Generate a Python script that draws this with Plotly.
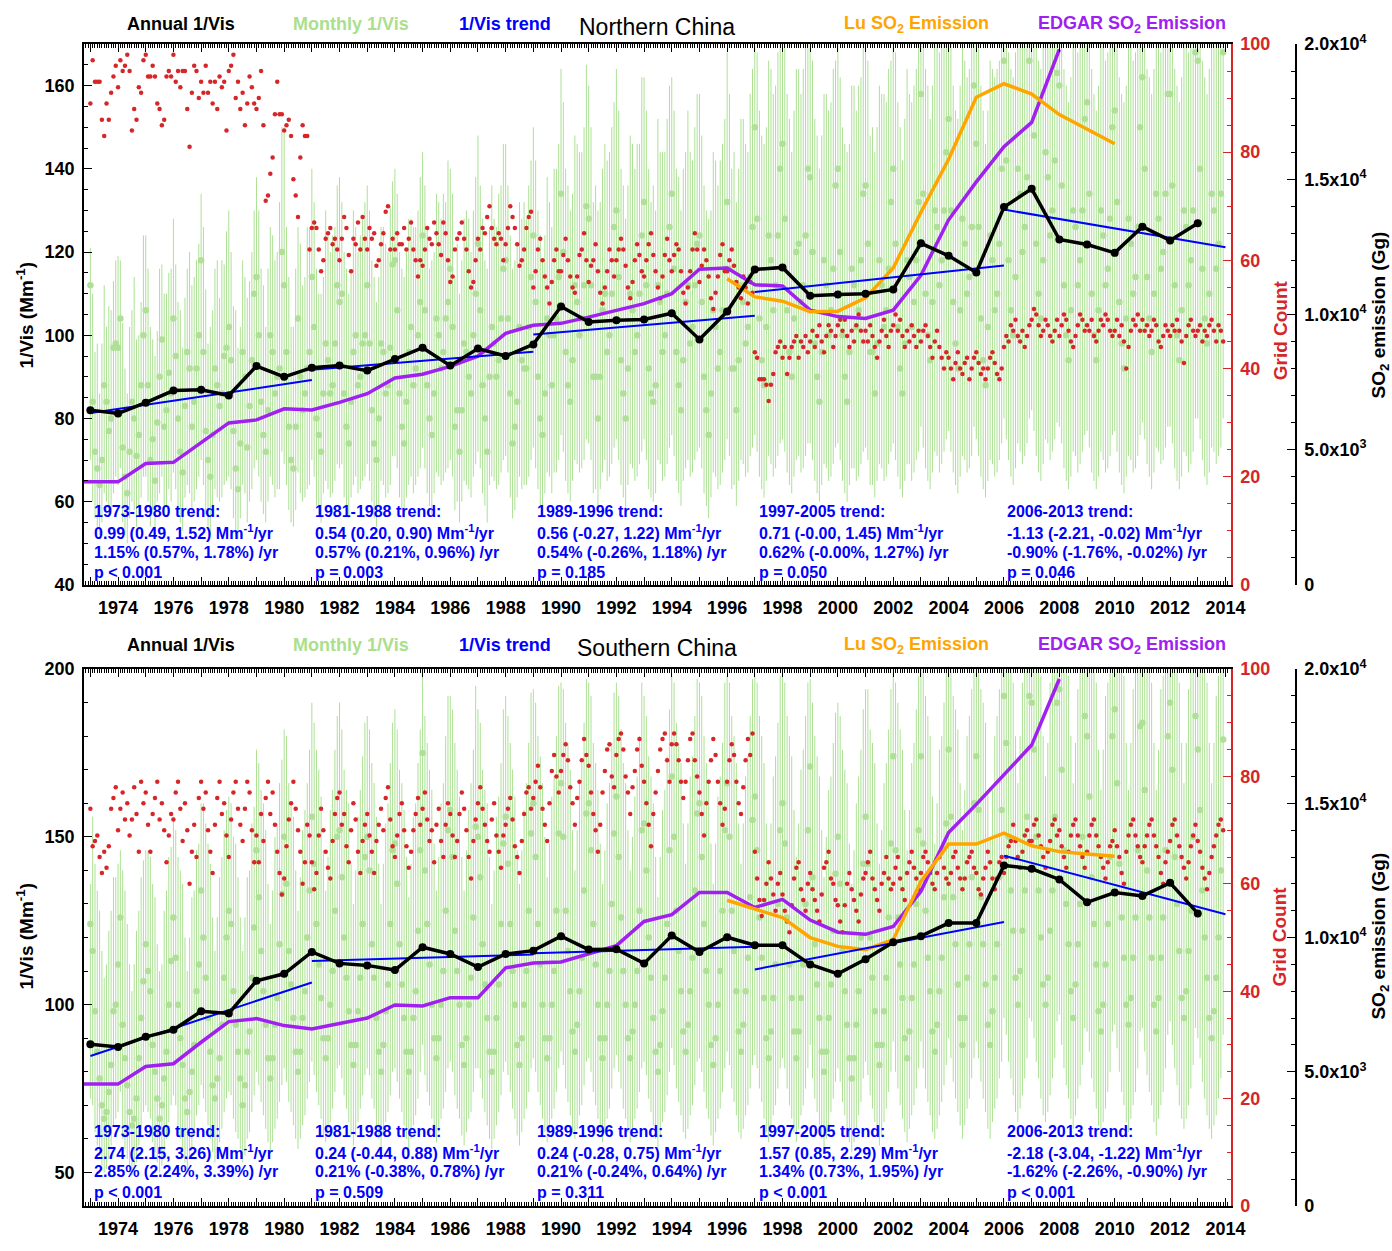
import plotly.graph_objects as go

# ------------------------------------------------------------------
# Shared time axes
# ------------------------------------------------------------------
YEARS = list(range(1973, 2014))
TICK_YEARS = list(range(1973, 2015))

# ------------------------------------------------------------------
# Northern China
# ------------------------------------------------------------------
n_annual = [82.0, 81.2, 83.8, 86.7, 86.9, 85.5, 92.6, 90.0, 92.2, 92.7,
            91.5, 94.3, 97.0, 92.7, 96.8, 95.0, 97.8, 106.9, 103.2, 103.6,
            103.8, 105.3, 99.0, 105.7, 115.8, 116.3, 109.5, 109.8, 110.0, 111.0,
            122.1, 119.1, 115.1, 130.8, 135.2, 123.0, 121.8, 119.8, 126.1, 122.8,
            126.9]

n_monthly = [
    [112, 84, 72, 68, 64, 70, 88, 84, 77, 80, 97, 98],
    [97, 104, 73, 66, 62, 72, 84, 80, 71, 76, 88, 100],
    [106, 88, 70, 75, 65, 79, 90, 99, 78, 82, 91, 86],
    [104, 95, 80, 72, 67, 83, 96, 92, 78, 84, 92, 100],
    [118, 96, 77, 70, 66, 76, 92, 88, 83, 86, 95, 97],
    [102, 94, 77, 68, 63, 74, 96, 90, 73, 83, 94, 110],
    [114, 100, 84, 76, 72, 82, 100, 96, 86, 90, 92, 120],
    [112, 96, 78, 70, 68, 78, 104, 90, 82, 86, 92, 96],
    [114, 102, 80, 76, 72, 86, 98, 94, 86, 88, 98, 112],
    [108, 110, 86, 78, 74, 84, 96, 100, 88, 90, 98, 100],
    [112, 98, 82, 74, 70, 80, 98, 96, 86, 88, 97, 117],
    [118, 106, 86, 78, 74, 84, 96, 102, 88, 92, 100, 108],
    [124, 106, 88, 80, 76, 86, 104, 100, 92, 96, 104, 108],
    [116, 102, 78, 82, 72, 82, 98, 96, 90, 86, 100, 110],
    [122, 106, 88, 80, 72, 90, 102, 98, 90, 94, 104, 116],
    [118, 104, 86, 74, 78, 84, 102, 94, 92, 92, 102, 114],
    [124, 108, 90, 80, 76, 86, 104, 100, 88, 100, 104, 114],
    [134, 120, 96, 88, 84, 94, 112, 108, 100, 104, 112, 131],
    [128, 112, 90, 90, 80, 90, 106, 110, 96, 100, 110, 126],
    [130, 114, 94, 86, 80, 92, 110, 106, 96, 100, 110, 124],
    [132, 112, 92, 86, 84, 88, 112, 108, 96, 100, 110, 126],
    [134, 116, 96, 88, 82, 94, 108, 112, 98, 102, 112, 122],
    [124, 108, 90, 82, 76, 86, 106, 102, 92, 96, 106, 116],
    [132, 116, 92, 92, 82, 94, 112, 108, 98, 102, 114, 126],
    [150, 128, 104, 94, 88, 102, 124, 118, 106, 112, 124, 140],
    [146, 128, 106, 96, 90, 104, 120, 122, 108, 112, 124, 140],
    [138, 120, 98, 90, 84, 96, 118, 112, 100, 106, 116, 136],
    [140, 120, 100, 90, 84, 96, 116, 112, 102, 106, 118, 134],
    [136, 122, 96, 96, 86, 98, 118, 112, 102, 106, 116, 132],
    [140, 122, 102, 92, 86, 98, 118, 114, 102, 108, 118, 132],
    [158, 134, 110, 100, 94, 108, 130, 126, 112, 118, 130, 144],
    [152, 130, 108, 98, 92, 106, 128, 122, 110, 114, 126, 160],
    [146, 126, 104, 94, 88, 102, 124, 118, 106, 110, 122, 140],
    [166, 142, 118, 106, 100, 114, 140, 134, 120, 126, 138, 166],
    [172, 148, 122, 110, 104, 118, 144, 138, 124, 130, 142, 163],
    [160, 136, 112, 100, 94, 106, 130, 126, 112, 118, 130, 152],
    [156, 134, 110, 100, 94, 106, 130, 124, 112, 116, 128, 150],
    [154, 132, 108, 98, 92, 104, 128, 122, 110, 114, 126, 150],
    [162, 140, 114, 104, 96, 110, 134, 128, 116, 120, 134, 158],
    [158, 136, 112, 100, 94, 106, 130, 126, 112, 118, 130, 168],
    [166, 140, 116, 104, 98, 110, 134, 130, 116, 122, 134, 168],
]

n_bar_up = [
    [9, 26, 24, 30, 22, 28, 24, 18, 30, 26, 16, 20],
    [22, 14, 30, 26, 24, 30, 22, 34, 28, 24, 20, 24],
    [18, 28, 32, 24, 30, 22, 26, 18, 32, 28, 24, 30],
    [24, 22, 28, 34, 30, 26, 20, 28, 34, 30, 26, 22],
    [16, 30, 34, 28, 36, 30, 24, 30, 26, 32, 22, 28],
    [28, 26, 30, 38, 34, 28, 22, 24, 36, 30, 26, 20],
    [24, 30, 32, 36, 30, 34, 26, 28, 32, 30, 40, 30],
    [38, 30, 36, 32, 34, 38, 22, 32, 30, 28, 34, 30],
    [26, 30, 36, 34, 38, 28, 32, 30, 34, 36, 28, 24],
    [30, 22, 34, 38, 36, 32, 34, 26, 32, 34, 30, 32],
    [24, 32, 36, 40, 38, 34, 28, 30, 36, 32, 34, 20],
    [22, 28, 34, 38, 40, 36, 32, 26, 38, 34, 30, 30],
    [20, 30, 38, 36, 42, 34, 30, 32, 36, 38, 28, 34],
    [24, 32, 36, 40, 38, 36, 30, 34, 38, 34, 30, 28],
    [26, 30, 40, 38, 44, 36, 34, 30, 36, 40, 32, 30],
    [28, 32, 38, 42, 40, 38, 30, 34, 40, 36, 34, 28],
    [26, 34, 40, 44, 42, 38, 34, 32, 38, 40, 36, 32],
    [30, 36, 44, 48, 46, 40, 36, 38, 44, 40, 38, 34],
    [32, 38, 42, 46, 50, 42, 34, 36, 46, 44, 40, 30],
    [34, 40, 46, 50, 48, 44, 38, 40, 44, 46, 36, 38],
    [30, 42, 48, 46, 52, 42, 40, 36, 48, 44, 42, 34],
    [28, 38, 44, 50, 48, 46, 36, 42, 46, 40, 38, 36],
    [34, 40, 46, 48, 52, 44, 38, 40, 44, 46, 40, 36],
    [36, 42, 48, 52, 50, 46, 40, 44, 48, 42, 44, 38],
    [20, 40, 50, 54, 58, 48, 42, 46, 52, 48, 44, 38],
    [30, 44, 52, 56, 54, 50, 44, 42, 50, 52, 46, 34],
    [34, 46, 54, 58, 56, 52, 40, 46, 54, 50, 48, 30],
    [30, 42, 50, 56, 60, 50, 44, 48, 52, 54, 44, 36],
    [36, 44, 52, 54, 58, 52, 42, 46, 56, 50, 48, 34],
    [32, 46, 54, 58, 56, 54, 46, 44, 54, 52, 46, 38],
    [20, 40, 54, 60, 58, 52, 44, 48, 56, 54, 46, 30],
    [24, 42, 52, 56, 60, 54, 46, 44, 52, 50, 48, 10],
    [28, 44, 56, 60, 58, 52, 42, 46, 56, 54, 44, 32],
    [10, 34, 50, 58, 62, 54, 40, 44, 54, 50, 40, 12],
    [8, 30, 48, 56, 60, 52, 36, 42, 52, 48, 36, 14],
    [14, 36, 52, 60, 62, 56, 42, 44, 56, 52, 42, 20],
    [16, 38, 54, 58, 60, 54, 42, 46, 54, 52, 44, 22],
    [18, 40, 54, 60, 64, 56, 44, 48, 56, 54, 46, 22],
    [12, 32, 50, 58, 62, 54, 40, 44, 52, 50, 38, 14],
    [14, 36, 52, 60, 62, 56, 42, 44, 56, 52, 42, 8],
    [10, 34, 50, 58, 60, 54, 40, 42, 54, 50, 38, 8],
]

n_bar_low = [
    [70, 60, 56, 54, 52, 55, 62, 60, 57, 58, 62, 66],
    [64, 68, 55, 52, 50, 56, 60, 58, 54, 57, 61, 66],
    [66, 60, 54, 58, 52, 60, 62, 66, 57, 59, 63, 60],
    [67, 63, 58, 55, 53, 61, 64, 62, 57, 60, 63, 66],
    [70, 64, 57, 54, 52, 57, 63, 61, 60, 61, 64, 65],
    [66, 63, 56, 53, 51, 56, 64, 62, 55, 60, 63, 68],
    [70, 66, 60, 57, 55, 60, 66, 64, 61, 63, 63, 72],
    [69, 64, 58, 55, 54, 58, 67, 62, 60, 61, 63, 64],
    [70, 66, 59, 57, 55, 62, 65, 63, 61, 62, 65, 69],
    [68, 69, 61, 58, 56, 61, 64, 66, 62, 63, 65, 66],
    [69, 65, 60, 56, 54, 59, 65, 64, 61, 62, 64, 71],
    [71, 68, 61, 58, 56, 61, 64, 66, 62, 64, 66, 68],
    [73, 68, 62, 59, 57, 62, 67, 66, 64, 65, 67, 68],
    [70, 66, 58, 60, 55, 60, 65, 64, 63, 61, 66, 69],
    [72, 68, 62, 59, 55, 64, 66, 65, 63, 64, 67, 70],
    [71, 67, 61, 56, 58, 61, 66, 63, 64, 64, 66, 70],
    [73, 68, 63, 59, 57, 62, 67, 66, 62, 67, 67, 70],
    [76, 72, 65, 62, 60, 65, 70, 69, 67, 68, 70, 75],
    [74, 70, 62, 63, 58, 63, 67, 70, 65, 66, 69, 73],
    [75, 70, 64, 61, 58, 64, 69, 68, 65, 66, 69, 72],
    [75, 70, 63, 61, 60, 62, 70, 69, 65, 66, 69, 73],
    [76, 71, 65, 62, 59, 65, 68, 70, 66, 67, 70, 72],
    [73, 68, 62, 59, 56, 61, 67, 66, 63, 64, 67, 70],
    [75, 71, 63, 64, 59, 65, 70, 69, 66, 67, 71, 73],
    [76, 72, 66, 63, 61, 65, 71, 69, 66, 68, 71, 74],
    [75, 72, 67, 64, 62, 66, 70, 71, 67, 68, 71, 74],
    [74, 70, 65, 62, 60, 64, 69, 68, 65, 66, 69, 73],
    [74, 70, 65, 62, 60, 64, 68, 68, 65, 66, 69, 72],
    [73, 70, 64, 64, 61, 65, 69, 68, 65, 66, 69, 72],
    [74, 70, 66, 63, 61, 65, 69, 69, 65, 67, 70, 72],
    [78, 73, 68, 65, 63, 67, 72, 71, 67, 69, 72, 75],
    [77, 72, 67, 64, 62, 66, 71, 70, 67, 68, 71, 78],
    [75, 71, 66, 63, 61, 65, 70, 69, 66, 67, 70, 74],
    [80, 75, 70, 66, 64, 68, 74, 72, 69, 71, 74, 80],
    [82, 77, 71, 67, 65, 69, 75, 74, 70, 72, 75, 79],
    [78, 74, 68, 65, 63, 66, 72, 71, 67, 69, 72, 76],
    [77, 73, 67, 65, 63, 66, 72, 70, 67, 68, 71, 76],
    [77, 72, 67, 64, 62, 66, 71, 70, 67, 68, 71, 76],
    [79, 75, 69, 66, 63, 67, 73, 72, 69, 70, 73, 78],
    [78, 74, 68, 65, 63, 66, 72, 71, 67, 69, 72, 80],
    [80, 75, 70, 66, 64, 67, 73, 72, 69, 71, 73, 80],
]

n_grid = [
    [89, 97, 93, 93, 93, 86, 83, 89, 86, 91, 94, 96],
    [92, 97, 95, 96, 98, 95, 84, 88, 86, 92, 91, 97],
    [98, 94, 94, 96, 94, 89, 88, 85, 86, 94, 95, 94],
    [98, 93, 95, 92, 95, 95, 88, 81, 91, 96, 95, 90],
    [93, 91, 96, 91, 93, 89, 93, 88, 94, 92, 93, 84],
    [95, 96, 98, 90, 93, 88, 91, 85, 89, 94, 92, 89],
    [88, 90, 95, 85, 71, 72, 76, 79, 87, 93, 87, 87],
    [84, 85, 86, 83, 75, 72, 68, 79, 85, 83, 83, 62],
    [66, 67, 66, 62, 58, 60, 64, 65, 66, 63, 64, 62],
    [60, 64, 68, 66, 61, 58, 64, 63, 67, 62, 68, 64],
    [62, 66, 64, 65, 59, 60, 63, 65, 69, 70, 62, 64],
    [62, 65, 63, 63, 66, 62, 64, 67, 62, 60, 57, 60],
    [59, 62, 66, 64, 63, 67, 65, 63, 61, 67, 65, 60],
    [56, 57, 62, 64, 65, 67, 64, 62, 58, 55, 56, 60],
    [64, 62, 66, 65, 68, 70, 66, 64, 63, 65, 64, 60],
    [63, 66, 70, 68, 66, 63, 59, 60, 62, 66, 68, 69],
    [55, 58, 62, 64, 60, 57, 55, 52, 56, 60, 62, 58],
    [58, 61, 64, 60, 57, 55, 54, 57, 61, 62, 65, 60],
    [56, 59, 60, 63, 58, 54, 52, 55, 58, 62, 60, 57],
    [60, 62, 64, 62, 59, 55, 53, 56, 60, 63, 61, 58],
    [57, 60, 63, 65, 61, 58, 55, 53, 57, 61, 64, 60],
    [58, 61, 63, 62, 58, 54, 52, 55, 58, 62, 65, 62],
    [56, 59, 62, 60, 57, 53, 51, 54, 57, 61, 63, 58],
    [58, 60, 62, 59, 56, 55, 53, 57, 55, 52, 56, 54],
    [43, 42, 38, 38, 38, 37, 34, 37, 39, 43, 44, 45],
    [42, 44, 39, 42, 44, 45, 46, 42, 45, 44, 46, 43],
    [45, 47, 44, 46, 48, 45, 43, 46, 48, 47, 44, 46],
    [48, 49, 47, 49, 46, 44, 47, 45, 48, 50, 47, 45],
    [47, 45, 48, 46, 44, 42, 45, 47, 49, 46, 44, 47],
    [48, 50, 47, 49, 46, 44, 47, 45, 48, 46, 44, 47],
    [45, 47, 48, 46, 44, 42, 45, 47, 44, 42, 40, 43],
    [42, 40, 38, 41, 43, 40, 39, 41, 42, 38, 40, 42],
    [43, 41, 39, 40, 38, 40, 42, 43, 41, 39, 38, 40],
    [44, 46, 45, 48, 47, 49, 46, 45, 47, 44, 46, 48],
    [49, 51, 50, 48, 46, 47, 49, 48, 46, 45, 47, 49],
    [46, 48, 50, 49, 47, 45, 44, 46, 48, 50, 49, 47],
    [48, 47, 49, 46, 45, 47, 49, 48, 50, 49, 47, 46],
    [47, 49, 46, 48, 45, 40, 44, 47, 49, 48, 50, 47],
    [49, 47, 48, 46, 47, 49, 48, 45, 44, 46, 48, 47],
    [46, 48, 47, 49, 47, 45, 41, 46, 48, 49, 47, 46],
    [47, 48, 45, 47, 46, 48, 49, 47, 45, 48, 47, 45],
]

n_edgar_years = list(range(1972, 2009))
n_edgar = [3810, 3810, 3810, 4490, 4530, 5260, 5990, 6100, 6510, 6470,
           6750, 7070, 7650, 7790, 8080, 8460, 9300, 9600, 9670, 9900,
           10150, 10400, 10770, 11670, 11720, 11100, 11050, 10160, 9920, 9850,
           10160, 11450, 13500, 14900, 16200, 17100, 19800]

n_lu_years = list(range(1996, 2011))
n_lu = [11320, 10650, 10490, 10100, 10120, 10610, 11720, 13780, 15740, 18030,
        18530, 18150, 17390, 16840, 16310]

n_trend_from = [1973, 1981, 1989, 1997, 2006]
n_trend_to = [1981, 1989, 1997, 2006, 2014]
n_trend_start = [81.3, 91.7, 100.2, 110.4, 130.2]
n_slope = [0.99, 0.54, 0.56, 0.71, -1.13]
n_slope_lo = [0.49, 0.20, -0.27, -0.00, -2.21]
n_slope_hi = [1.52, 0.90, 1.22, 1.45, -0.02]
n_pct = [1.15, 0.57, 0.54, 0.62, -0.90]
n_pct_lo = [0.57, 0.21, -0.26, -0.00, -1.76]
n_pct_hi = [1.78, 0.96, 1.18, 1.27, -0.02]
n_pval = ["p < 0.001", "p = 0.003", "p = 0.185", "p = 0.050", "p = 0.046"]

# ------------------------------------------------------------------
# Southern China
# ------------------------------------------------------------------
s_annual = [88.2, 87.4, 90.4, 92.5, 98.0, 97.4, 107.1, 109.2, 115.7, 112.3,
            111.7, 110.3, 117.1, 115.1, 111.2, 115.1, 116.1, 120.4, 116.4, 116.5,
            112.3, 120.6, 115.7, 120.1, 117.7, 117.7, 112.0, 109.2, 113.5, 118.6,
            120.4, 124.3, 124.3, 141.5, 140.5, 137.3, 130.5, 133.4, 132.4, 136.3,
            127.2]

s_monthly = [
    [124, 116, 98, 86, 78, 70, 66, 68, 74, 82, 98, 100],
    [112, 126, 94, 84, 76, 68, 64, 66, 72, 84, 96, 107],
    [118, 110, 104, 88, 80, 72, 66, 70, 78, 86, 100, 113],
    [126, 114, 100, 90, 82, 72, 68, 74, 80, 88, 104, 112],
    [134, 120, 108, 96, 86, 76, 72, 78, 84, 94, 108, 120],
    [128, 124, 104, 94, 86, 78, 70, 76, 86, 92, 108, 123],
    [146, 132, 116, 104, 94, 84, 78, 84, 94, 102, 118, 133],
    [150, 136, 116, 106, 96, 86, 80, 86, 96, 104, 120, 134],
    [156, 142, 124, 112, 102, 90, 84, 90, 100, 110, 128, 150],
    [152, 138, 120, 108, 98, 88, 82, 88, 98, 108, 124, 144],
    [150, 140, 118, 108, 96, 86, 80, 88, 98, 106, 124, 146],
    [148, 136, 118, 106, 96, 86, 80, 86, 96, 104, 122, 146],
    [175, 140, 124, 112, 100, 90, 84, 90, 100, 110, 128, 152],
    [158, 144, 122, 110, 100, 88, 82, 90, 100, 108, 126, 153],
    [150, 138, 118, 106, 96, 86, 80, 86, 96, 106, 124, 148],
    [156, 142, 124, 110, 100, 88, 82, 90, 100, 110, 128, 151],
    [160, 144, 124, 112, 100, 90, 84, 90, 100, 110, 128, 151],
    [166, 150, 128, 116, 104, 92, 86, 94, 104, 114, 134, 157],
    [160, 146, 124, 112, 100, 90, 84, 90, 100, 110, 130, 151],
    [162, 144, 126, 110, 100, 90, 84, 92, 100, 110, 128, 152],
    [154, 140, 120, 108, 96, 86, 80, 88, 98, 108, 124, 146],
    [168, 150, 128, 116, 104, 92, 86, 94, 104, 114, 134, 157],
    [160, 144, 124, 110, 100, 88, 82, 90, 100, 110, 128, 152],
    [166, 150, 128, 116, 104, 92, 86, 94, 104, 114, 132, 155],
    [162, 146, 126, 114, 102, 90, 84, 92, 102, 112, 130, 152],
    [160, 148, 126, 112, 102, 92, 84, 92, 102, 112, 130, 152],
    [171, 138, 118, 106, 96, 86, 80, 86, 96, 106, 122, 139],
    [150, 136, 116, 104, 94, 84, 78, 84, 94, 104, 120, 142],
    [156, 142, 120, 108, 98, 88, 82, 88, 98, 108, 126, 148],
    [174, 146, 126, 112, 102, 90, 84, 92, 102, 112, 130, 152],
    [174, 148, 128, 114, 104, 92, 86, 94, 104, 114, 132, 154],
    [176, 156, 132, 118, 106, 96, 88, 96, 108, 118, 138, 160],
    [174, 158, 132, 118, 106, 94, 88, 98, 108, 118, 138, 158],
    [192, 178, 150, 134, 122, 108, 100, 110, 122, 134, 156, 192],
    [190, 176, 150, 134, 120, 106, 100, 108, 122, 134, 156, 190],
    [194, 170, 146, 130, 118, 104, 96, 106, 118, 130, 150, 186],
    [180, 162, 138, 124, 112, 98, 92, 100, 112, 124, 144, 180],
    [188, 166, 142, 126, 114, 100, 94, 102, 114, 126, 146, 183],
    [184, 164, 140, 126, 114, 100, 92, 102, 114, 126, 146, 180],
    [190, 170, 144, 130, 116, 102, 96, 104, 116, 128, 150, 186],
    [176, 158, 134, 120, 108, 96, 90, 98, 108, 120, 140, 179],
]

s_bar_up = [
    [12, 40, 44, 48, 50, 46, 42, 44, 48, 46, 40, 38],
    [30, 20, 46, 50, 48, 44, 40, 46, 50, 44, 42, 36],
    [28, 36, 40, 48, 52, 46, 44, 42, 50, 48, 44, 34],
    [30, 38, 44, 50, 54, 48, 42, 46, 52, 46, 42, 36],
    [26, 40, 46, 52, 56, 50, 44, 48, 54, 50, 44, 38],
    [34, 36, 46, 54, 52, 48, 46, 50, 52, 48, 46, 36],
    [30, 40, 48, 56, 58, 52, 46, 50, 56, 52, 48, 40],
    [32, 44, 50, 54, 60, 54, 48, 52, 56, 54, 46, 42],
    [34, 42, 52, 58, 60, 56, 50, 54, 58, 54, 48, 36],
    [38, 44, 50, 56, 62, 54, 48, 52, 58, 56, 50, 40],
    [36, 42, 54, 58, 60, 56, 50, 54, 56, 54, 48, 38],
    [40, 46, 52, 60, 62, 58, 52, 56, 60, 56, 50, 36],
    [25, 46, 54, 58, 64, 58, 50, 54, 60, 56, 52, 40],
    [34, 44, 56, 60, 62, 56, 52, 56, 58, 58, 50, 42],
    [38, 46, 52, 58, 64, 58, 50, 54, 60, 56, 48, 40],
    [36, 44, 54, 60, 62, 58, 54, 56, 58, 56, 50, 42],
    [34, 46, 56, 62, 66, 60, 54, 58, 62, 58, 52, 44],
    [30, 44, 56, 62, 66, 60, 54, 58, 62, 58, 50, 40],
    [36, 46, 54, 60, 64, 58, 52, 56, 60, 56, 48, 42],
    [34, 48, 56, 62, 66, 62, 56, 58, 62, 58, 52, 44],
    [38, 46, 54, 60, 64, 58, 52, 56, 60, 56, 50, 42],
    [30, 46, 56, 62, 68, 62, 56, 60, 64, 60, 52, 40],
    [36, 48, 56, 62, 66, 60, 54, 58, 62, 58, 50, 44],
    [32, 46, 58, 64, 68, 62, 56, 60, 64, 60, 54, 42],
    [36, 50, 60, 66, 70, 64, 58, 62, 66, 62, 54, 46],
    [38, 48, 60, 68, 72, 66, 60, 62, 68, 64, 56, 44],
    [26, 52, 62, 68, 72, 66, 58, 64, 68, 62, 56, 48],
    [40, 50, 60, 66, 72, 64, 58, 62, 66, 64, 56, 46],
    [38, 52, 62, 70, 74, 66, 60, 64, 68, 64, 56, 46],
    [26, 50, 64, 70, 74, 68, 62, 66, 70, 66, 58, 46],
    [26, 52, 64, 72, 76, 70, 62, 66, 72, 66, 58, 46],
    [24, 44, 60, 70, 76, 70, 64, 68, 72, 68, 56, 40],
    [26, 42, 62, 72, 78, 70, 62, 66, 72, 68, 56, 42],
    [8, 22, 50, 66, 74, 72, 66, 70, 74, 66, 44, 8],
    [10, 24, 50, 66, 78, 74, 68, 70, 74, 66, 44, 10],
    [6, 30, 54, 70, 80, 76, 70, 72, 76, 70, 50, 14],
    [20, 38, 62, 76, 84, 78, 72, 76, 80, 72, 56, 20],
    [12, 34, 58, 74, 84, 78, 70, 76, 80, 74, 54, 17],
    [16, 36, 60, 74, 82, 78, 72, 74, 80, 72, 54, 20],
    [10, 30, 56, 70, 80, 76, 70, 74, 78, 72, 50, 14],
    [24, 42, 66, 80, 88, 82, 76, 80, 84, 78, 60, 21],
]

s_bar_low = [
    [72, 70, 62, 58, 55, 52, 50, 51, 54, 58, 64, 66],
    [68, 74, 60, 57, 54, 51, 49, 50, 53, 58, 63, 68],
    [70, 68, 66, 59, 56, 53, 50, 52, 56, 60, 65, 70],
    [73, 70, 64, 60, 57, 53, 51, 54, 57, 61, 67, 70],
    [76, 72, 68, 64, 60, 56, 53, 56, 59, 63, 68, 72],
    [74, 73, 66, 62, 60, 57, 53, 55, 60, 62, 68, 73],
    [80, 76, 71, 67, 63, 59, 56, 59, 63, 66, 71, 76],
    [81, 77, 71, 68, 64, 60, 57, 60, 64, 67, 72, 77],
    [83, 79, 74, 70, 66, 61, 59, 61, 65, 69, 74, 81],
    [82, 78, 73, 69, 65, 61, 58, 61, 65, 69, 73, 79],
    [81, 79, 72, 69, 64, 60, 57, 61, 65, 68, 73, 80],
    [81, 77, 72, 68, 64, 60, 57, 60, 64, 67, 72, 80],
    [88, 79, 74, 70, 66, 62, 59, 62, 66, 69, 74, 81],
    [83, 80, 73, 69, 66, 61, 58, 62, 66, 68, 74, 81],
    [81, 78, 72, 68, 64, 60, 57, 60, 64, 68, 73, 80],
    [83, 79, 74, 69, 66, 61, 58, 62, 66, 69, 74, 81],
    [84, 80, 74, 70, 66, 62, 59, 62, 66, 69, 74, 81],
    [86, 82, 75, 71, 67, 62, 60, 63, 67, 70, 76, 83],
    [84, 80, 74, 70, 66, 62, 59, 62, 66, 69, 75, 81],
    [85, 80, 75, 69, 66, 62, 59, 63, 66, 69, 74, 81],
    [83, 79, 72, 68, 64, 60, 57, 61, 65, 68, 73, 80],
    [87, 82, 75, 71, 67, 62, 60, 63, 67, 70, 76, 83],
    [84, 80, 74, 69, 66, 61, 58, 62, 66, 69, 74, 81],
    [86, 82, 75, 71, 67, 62, 60, 63, 67, 70, 75, 82],
    [85, 81, 75, 71, 66, 62, 59, 63, 67, 70, 75, 81],
    [84, 81, 75, 70, 66, 62, 59, 63, 67, 70, 75, 81],
    [88, 78, 72, 68, 64, 60, 57, 60, 64, 68, 72, 77],
    [81, 77, 71, 67, 63, 59, 56, 59, 63, 67, 71, 78],
    [83, 79, 73, 69, 65, 61, 58, 61, 65, 69, 74, 80],
    [89, 80, 75, 70, 66, 62, 59, 63, 67, 70, 75, 81],
    [89, 81, 75, 71, 67, 62, 60, 63, 67, 71, 76, 82],
    [90, 84, 77, 72, 68, 64, 60, 64, 69, 72, 78, 84],
    [89, 84, 77, 72, 68, 63, 60, 65, 69, 72, 78, 83],
    [96, 91, 83, 78, 73, 68, 65, 69, 73, 78, 84, 96],
    [95, 90, 83, 78, 72, 67, 65, 68, 73, 78, 84, 95],
    [97, 88, 81, 76, 72, 66, 63, 67, 72, 76, 82, 93],
    [92, 86, 78, 74, 69, 64, 62, 65, 69, 74, 80, 92],
    [94, 87, 80, 74, 70, 65, 62, 66, 70, 74, 81, 92],
    [93, 86, 79, 74, 70, 65, 61, 66, 70, 74, 81, 91],
    [95, 88, 81, 76, 70, 66, 63, 66, 70, 75, 82, 93],
    [90, 84, 77, 72, 67, 63, 60, 64, 67, 72, 78, 91],
]

s_grid = [
    [74, 67, 68, 69, 65, 62, 66, 63, 67, 74, 76, 78],
    [70, 74, 77, 72, 75, 69, 72, 78, 73, 66, 79, 75],
    [77, 71, 66, 73, 76, 79, 72, 75, 70, 64, 69, 73],
    [72, 77, 79, 74, 68, 75, 70, 60, 66, 71, 65, 76],
    [79, 74, 77, 70, 66, 62, 71, 76, 79, 73, 75, 69],
    [65, 72, 77, 79, 74, 71, 68, 74, 79, 77, 70, 64],
    [69, 64, 73, 68, 76, 79, 73, 77, 71, 66, 62, 58],
    [61, 67, 72, 75, 79, 74, 70, 66, 60, 64, 71, 69],
    [64, 59, 62, 69, 74, 70, 66, 63, 61, 68, 73, 76],
    [77, 71, 73, 67, 64, 70, 75, 72, 66, 62, 68, 71],
    [73, 69, 66, 62, 68, 71, 74, 70, 76, 78, 72, 67],
    [65, 69, 73, 75, 70, 67, 63, 66, 70, 73, 76, 71],
    [74, 77, 72, 68, 70, 64, 71, 74, 68, 65, 71, 75],
    [73, 69, 65, 68, 73, 77, 74, 70, 65, 61, 68, 72],
    [75, 78, 74, 71, 68, 66, 72, 75, 69, 66, 63, 69],
    [71, 74, 76, 72, 67, 65, 62, 68, 73, 77, 78, 74],
    [76, 79, 82, 78, 74, 71, 68, 75, 81, 84, 80, 77],
    [81, 84, 86, 83, 78, 75, 71, 76, 79, 83, 87, 84],
    [82, 77, 73, 70, 66, 71, 77, 81, 85, 86, 80, 78],
    [84, 87, 88, 85, 80, 77, 73, 78, 81, 85, 87, 82],
    [79, 75, 71, 67, 73, 77, 81, 85, 87, 88, 83, 79],
    [86, 88, 86, 83, 79, 76, 79, 83, 87, 88, 83, 80],
    [77, 73, 69, 75, 79, 83, 87, 84, 79, 75, 71, 74],
    [79, 83, 86, 84, 79, 75, 73, 78, 83, 87, 84, 88],
    [66, 61, 57, 54, 57, 60, 64, 61, 58, 55, 60, 62],
    [58, 55, 53, 51, 56, 61, 63, 64, 59, 57, 55, 60],
    [62, 59, 57, 55, 53, 58, 63, 64, 66, 61, 60, 57],
    [56, 53, 51, 56, 60, 62, 59, 57, 55, 53, 58, 61],
    [62, 64, 66, 61, 59, 57, 55, 60, 62, 65, 61, 59],
    [60, 63, 65, 61, 59, 57, 62, 64, 66, 63, 61, 59],
    [62, 65, 66, 64, 62, 60, 59, 62, 65, 66, 63, 61],
    [60, 62, 65, 66, 63, 61, 59, 61, 64, 65, 66, 63],
    [62, 59, 58, 61, 63, 66, 64, 61, 59, 61, 64, 65],
    [62, 65, 67, 68, 71, 68, 65, 63, 66, 69, 70, 68],
    [68, 71, 72, 69, 67, 65, 63, 66, 68, 71, 72, 69],
    [70, 67, 65, 63, 66, 69, 71, 72, 69, 67, 65, 63],
    [66, 69, 71, 72, 69, 67, 65, 63, 61, 64, 67, 68],
    [70, 67, 65, 62, 60, 66, 69, 71, 72, 69, 67, 65],
    [64, 67, 69, 71, 72, 69, 67, 65, 62, 60, 64, 66],
    [68, 71, 72, 69, 67, 65, 63, 61, 64, 67, 69, 71],
    [68, 66, 63, 61, 59, 62, 65, 67, 69, 71, 72, 70],
]

s_edgar_years = list(range(1972, 2009))
s_edgar = [4540, 4540, 4540, 5200, 5300, 6100, 6870, 6980, 6720, 6590,
           6780, 7000, 7490, 7450, 7760, 7760, 8870, 9050, 9090, 9390,
           9700, 10600, 10850, 11680, 11680, 11120, 11420, 10650, 10200, 10120,
           10410, 11720, 13910, 14960, 16060, 17170, 19630]

s_lu_years = list(range(1996, 2011))
s_lu = [11390, 11080, 10740, 10000, 9670, 9550, 9920, 12090, 13480, 13480,
        13890, 13420, 13200, 13110, 13030]

s_trend_from = [1973, 1981, 1989, 1997, 2006]
s_trend_to = [1981, 1989, 1997, 2006, 2014]
s_trend_start = [84.7, 113.0, 115.3, 110.5, 144.4]
s_slope = [2.74, 0.24, 0.24, 1.57, -2.18]
s_slope_lo = [2.15, -0.44, -0.28, 0.85, -3.04]
s_slope_hi = [3.26, 0.88, 0.75, 2.29, -1.22]
s_pct = [2.85, 0.21, 0.21, 1.34, -1.62]
s_pct_lo = [2.24, -0.38, -0.24, 0.73, -2.26]
s_pct_hi = [3.39, 0.78, 0.64, 1.95, -0.90]
s_pval = ["p < 0.001", "p = 0.509", "p = 0.311", "p < 0.001", "p < 0.001"]

# ------------------------------------------------------------------
# Page geometry (pixels) and style
# ------------------------------------------------------------------
W, H = 1392, 1251
ML, MR, MT, MB = 84, 40, 44, 34
PW, PH = W - ML - MR, H - MT - MB

FONT = "Liberation Sans, Arial, Helvetica, sans-serif"
GREEN_BAR = "rgb(172,225,148)"
GREEN_DOT = "rgb(176,224,152)"
GREEN_TXT = "rgb(170,224,140)"
RED = "rgb(214,38,40)"
BLUE = "rgb(0,0,255)"
ORANGE = "rgb(255,165,0)"
PURPLE = "rgb(160,32,240)"


def px_x(px):
    return (px - ML) / PW


def px_y(py):
    return 1 - (py - MT) / PH


X_RIGHT = px_x(1231)
SO2_POS = px_x(1296)
X_RANGE = [1972.77, 2014.2]

month_x = [y + m / 12.0 for y in YEARS for m in range(12)]


def flat(rows):
    return [v for r in rows for v in r]


fig = go.Figure()


def add_panel(ax, monthly, up, low, grid, edgar_years, edgar, lu_years, lu,
              annual, t_from, t_to, t_start, slope):
    xa, y_vis, y_grid, y_so2, y_top = ax
    vals = flat(monthly)
    ups = flat(up)
    dns = [v - lo for v, lo in zip(vals, flat(low))]
    fig.add_trace(go.Scatter(
        x=month_x, y=vals, mode="markers", xaxis=xa, yaxis=y_vis,
        marker=dict(size=6.5, color=GREEN_DOT),
        error_y=dict(type="data", symmetric=False, array=ups, arrayminus=dns,
                     width=0, thickness=1, color=GREEN_BAR),
        showlegend=False, hoverinfo="skip"))
    fig.add_trace(go.Scatter(
        x=month_x, y=flat(grid), mode="markers", xaxis=xa, yaxis=y_grid,
        marker=dict(size=4.5, symbol="circle", color=RED),
        showlegend=False, hoverinfo="skip"))
    fig.add_trace(go.Scatter(
        x=edgar_years, y=edgar, mode="lines", xaxis=xa, yaxis=y_so2,
        line=dict(color=PURPLE, width=3.5), showlegend=False))
    fig.add_trace(go.Scatter(
        x=lu_years, y=lu, mode="lines", xaxis=xa, yaxis=y_so2,
        line=dict(color=ORANGE, width=3.5), showlegend=False))
    for a, b, y0, k in zip(t_from, t_to, t_start, slope):
        fig.add_trace(go.Scatter(
            x=[a, b], y=[y0, y0 + k * (b - a)], mode="lines",
            xaxis=xa, yaxis=y_top, line=dict(color=BLUE, width=2),
            showlegend=False))
    fig.add_trace(go.Scatter(
        x=YEARS, y=annual, mode="lines+markers", xaxis=xa, yaxis=y_top,
        line=dict(color="black", width=3.5),
        marker=dict(size=8, color="black"), showlegend=False))


add_panel(("x", "y", "y2", "y3", "y4"), n_monthly, n_bar_up, n_bar_low, n_grid,
          n_edgar_years, n_edgar, n_lu_years, n_lu, n_annual,
          n_trend_from, n_trend_to, n_trend_start, n_slope)
add_panel(("x2", "y5", "y6", "y7", "y8"), s_monthly, s_bar_up, s_bar_low, s_grid,
          s_edgar_years, s_edgar, s_lu_years, s_lu, s_annual,
          s_trend_from, s_trend_to, s_trend_start, s_slope)

# ------------------------------------------------------------------
# Axes
# ------------------------------------------------------------------
tick_font = dict(family=FONT, size=18, color="black", weight="bold")
red_font = dict(family=FONT, size=18, color=RED, weight="bold")
tick_text = [str(y) if y % 2 == 0 else "" for y in TICK_YEARS]

top_dom = [px_y(590), 1.0]
bot_dom = [0.0, px_y(675)]


def x_axis(anchor):
    return dict(domain=[0, X_RIGHT], anchor=anchor, range=X_RANGE,
                tickmode="array", tickvals=TICK_YEARS, ticktext=tick_text,
                ticks="inside", ticklen=8, tickwidth=1.2, tickcolor="black",
                minor=dict(dtick=1 / 12.0, tick0=1973, ticks="inside",
                           ticklen=4, tickwidth=1, tickcolor="black"),
                showline=True, linecolor="black", linewidth=1.5, mirror="ticks",
                showgrid=False, zeroline=False, tickfont=tick_font,
                ticklabelstandoff=6)


def vis_axis(anchor, dom, rng, dtick, minor):
    return dict(domain=dom, anchor=anchor, range=rng, tick0=0, dtick=dtick,
                ticks="inside", ticklen=8, tickwidth=1.2, tickcolor="black",
                minor=dict(dtick=minor, ticks="inside", ticklen=4,
                           tickwidth=1, tickcolor="black"),
                showline=True, linecolor="black", linewidth=1.5,
                showgrid=False, zeroline=False, tickfont=tick_font,
                ticklabelstandoff=4)


def grid_axis(anchor, base):
    return dict(overlaying=base, anchor=anchor, side="right", range=[0, 100],
                tick0=0, dtick=20, ticks="inside", ticklen=8, tickwidth=1.2,
                tickcolor=RED,
                minor=dict(dtick=5, ticks="inside", ticklen=4, tickwidth=1,
                           tickcolor=RED),
                showline=True, linecolor=RED, linewidth=1.5,
                showgrid=False, zeroline=False, tickfont=red_font,
                ticklabelstandoff=4)


so2_vals = [0, 5000, 10000, 15000, 20000]
so2_text = ["0", "5.0x10<sup>3</sup>", "1.0x10<sup>4</sup>",
            "1.5x10<sup>4</sup>", "2.0x10<sup>4</sup>"]


def so2_axis(base):
    return dict(overlaying=base, anchor="free", position=SO2_POS, side="right",
                range=[0, 20000], tickmode="array", tickvals=so2_vals,
                ticktext=so2_text, ticks="inside", ticklen=8, tickwidth=1.2,
                tickcolor="black",
                minor=dict(dtick=1000, ticks="inside", ticklen=4, tickwidth=1,
                           tickcolor="black"),
                showline=True, linecolor="black", linewidth=1.5,
                showgrid=False, zeroline=False, tickfont=tick_font,
                ticklabelstandoff=4)


def hidden_axis(base, rng):
    return dict(overlaying=base, range=rng, visible=False)


fig.update_layout(
    width=W, height=H,
    margin=dict(l=ML, r=MR, t=MT, b=MB),
    paper_bgcolor="white", plot_bgcolor="white",
    font=dict(family=FONT, color="black"),
    xaxis=x_axis("y"),
    yaxis=vis_axis("x", top_dom, [40, 170], 20, 5),
    yaxis2=grid_axis("x", "y"),
    yaxis3=so2_axis("y"),
    yaxis4=hidden_axis("y", [40, 170]),
    xaxis2=x_axis("y5"),
    yaxis5=vis_axis("x2", bot_dom, [40, 200], 50, 10),
    yaxis6=grid_axis("x2", "y5"),
    yaxis7=so2_axis("y5"),
    yaxis8=hidden_axis("y5", [40, 200]),
)

# ------------------------------------------------------------------
# Text: key labels, titles, axis titles, trend statistics
# ------------------------------------------------------------------
annotations = []


def label(text, x, y, size, color, bold=True, angle=0, xanchor="center"):
    annotations.append(dict(
        text=text, x=px_x(x), y=px_y(y), xref="paper", yref="paper",
        xanchor=xanchor, yanchor="middle", showarrow=False, textangle=angle,
        font=dict(family=FONT, size=size, color=color,
                  weight="bold" if bold else "normal")))


key_items = [("Annual 1/Vis", 181, "black"),
             ("Monthly 1/Vis", 351, GREEN_TXT),
             ("1/Vis trend", 505, BLUE),
             ("Lu SO<sub>2</sub> Emission", 916, ORANGE),
             ("EDGAR SO<sub>2</sub> Emission", 1132, PURPLE)]

panel_text = [
    ("Northern China", 24, 318, 333,
     (n_trend_from, n_trend_to, n_slope, n_slope_lo, n_slope_hi,
      n_pct, n_pct_lo, n_pct_hi, n_pval), [516, 536.5, 557, 577]),
    ("Southern China", 651, 945, 945,
     (s_trend_from, s_trend_to, s_slope, s_slope_lo, s_slope_hi,
      s_pct, s_pct_lo, s_pct_hi, s_pval), [1141.5, 1162, 1182.5, 1203]),
]
text_cols = [92, 313, 535, 757, 1005]

for title, key_y, mid_y, grid_mid_y, stats, rows in panel_text:
    for txt, cx, col in key_items:
        label(txt, cx, key_y, 18, col)
    label(title, 657, key_y + 3, 23, "black", bold=False)
    label("1/Vis (Mm<sup>-1</sup>)", 25, mid_y, 19, "black", angle=-90)
    label("Grid Count", 1280, grid_mid_y, 19, RED, angle=-90)
    label("SO<sub>2</sub> emission (Gg)", 1380, mid_y, 19, "black", angle=-90)
    t_from, t_to, k, k_lo, k_hi, pc, pc_lo, pc_hi, pv = stats
    for i, cx in enumerate(text_cols):
        lines = [
            f"{t_from[i]}-{t_to[i] - 1} trend:",
            f"{k[i]:.2f} ({k_lo[i]:.2f}, {k_hi[i]:.2f}) Mm<sup>-1</sup>/yr",
            f"{pc[i]:.2f}% ({pc_lo[i]:.2f}%, {pc_hi[i]:.2f}%) /yr",
            pv[i],
        ]
        for line, ly in zip(lines, rows):
            label(line, cx, ly, 16, BLUE, xanchor="left")

fig.update_layout(annotations=annotations)

fig.write_html("out.html")
